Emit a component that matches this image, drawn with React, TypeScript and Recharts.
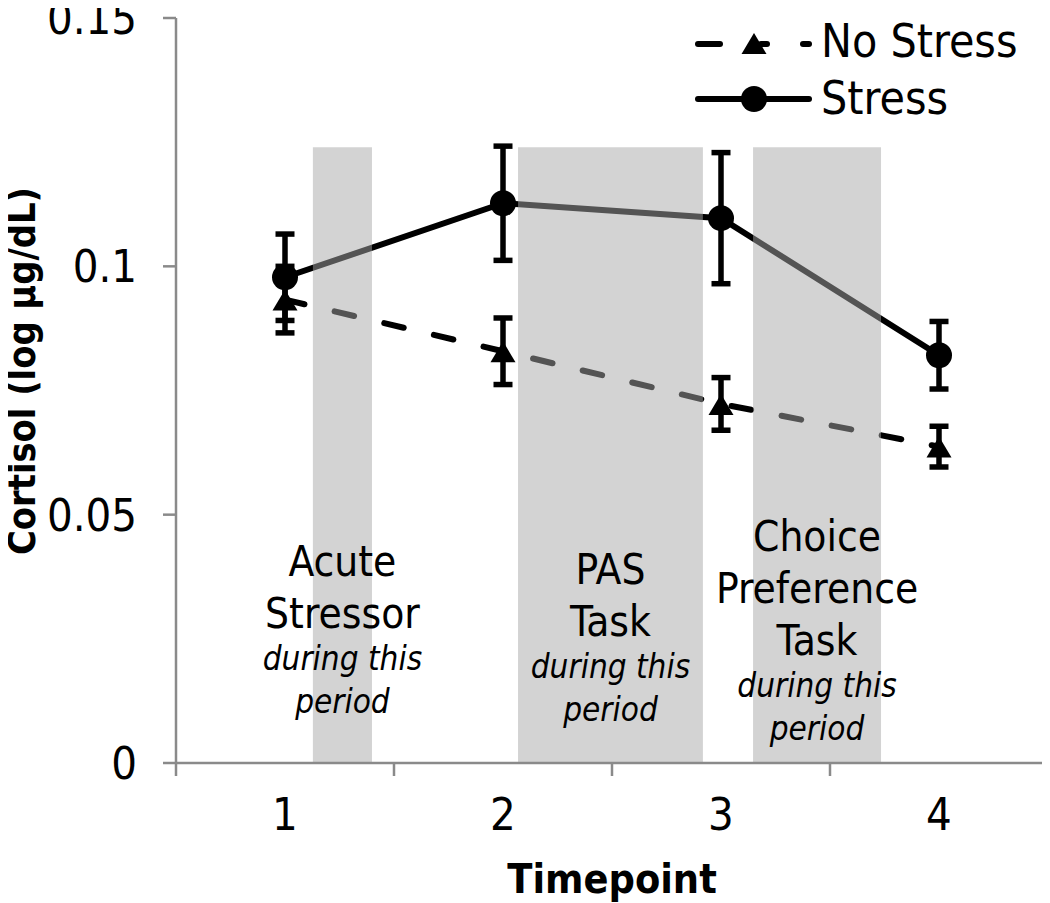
import React from 'react';
import { ComposedChart, Line, XAxis, YAxis, ErrorBar, ReferenceArea, Legend } from 'recharts';

const timepoints = [1, 2, 3, 4];
const stressMeans = [0.0978, 0.1127, 0.1097, 0.0821];
const stressErrors = [0.0087, 0.0115, 0.0132, 0.0068];
const noStressMeans = [0.0933, 0.0829, 0.0723, 0.0637];
const noStressErrors = [0.0067, 0.0067, 0.0053, 0.0041];
const yTicks = [0, 0.05, 0.1, 0.15];
const xTicks = [0.5, 1, 1.5, 2, 2.5, 3, 3.5, 4, 4.5];
const periodStarts = [1.128, 2.069, 3.147];
const periodEnds = [1.399, 2.917, 3.734];
const periodTop = 0.124;
const periodTitles = [['Acute', 'Stressor'], ['PAS', 'Task'], ['Choice', 'Preference', 'Task']];
const periodNote = ['during this', 'period'];
const seriesNames = ['No Stress', 'Stress'];
const yTitle = 'Cortisol (log µg/dL)';
const xTitle = 'Timepoint';

const data = timepoints.map((t, i) => ({
  t,
  stress: stressMeans[i],
  stressErr: stressErrors[i],
  noStress: noStressMeans[i],
  noStressErr: noStressErrors[i],
}));

const FONT = '"DejaVu Sans Condensed", "DejaVu Sans", sans-serif';
const AXIS = '#8a8a8a';
const firstBaselines = [429, 437, 404];

const makeBandLabel = (idx: number) => (props: any) => {
  const vb = props.viewBox || { x: 0, y: 0, width: 0, height: 0 };
  const cx = vb.x + vb.width / 2;
  const titles = periodTitles[idx];
  const base = vb.y + firstBaselines[idx];
  const lastTitle = base + (titles.length - 1) * 52;
  return (
    <g>
      {titles.map((s, i) => (
        <text key={'t' + i} x={cx} y={base + i * 52} textAnchor="middle" fontSize={42}
          fontFamily={FONT} fontStretch="condensed" fill="#000">{s}</text>
      ))}
      {periodNote.map((s, i) => (
        <text key={'n' + i} x={cx} y={lastTitle + 42 + i * 43} textAnchor="middle" fontSize={33}
          fontFamily={FONT} fontStretch="condensed" fontStyle="italic" fill="#000">{s}</text>
      ))}
    </g>
  );
};

const XTick = (props: any) => {
  const { x, y, payload } = props;
  const v = payload.value;
  if (Number.isInteger(v)) {
    return (
      <text x={x} y={y + 67} textAnchor="middle" fontSize={45} fontFamily={FONT}
        fontStretch="condensed" fill="#000">{String(v)}</text>
    );
  }
  return <line x1={x} y1={y} x2={x} y2={y + 13} stroke={AXIS} strokeWidth={2.5} />;
};

const YTitle = () => (
  <text transform="translate(27,363) rotate(-90)" textAnchor="middle" fontSize={38}
    fontWeight="bold" fontFamily={FONT} fontStretch="condensed" fill="#000"
    textLength={368} lengthAdjust="spacingAndGlyphs">{yTitle}</text>
);

const LegendContent = () => (
  <div style={{ fontFamily: FONT, fontStretch: 'condensed', fontSize: 46, color: '#000' }}>
    <div style={{ display: 'flex', alignItems: 'center', height: 57 }}>
      <svg width={126} height={57} style={{ display: 'block' }}>
        <line x1={3} y1={31} x2={25} y2={31} stroke="#000" strokeWidth={6} strokeLinecap="round" />
        <line x1={66} y1={31} x2={72} y2={31} stroke="#000" strokeWidth={6} strokeLinecap="round" />
        <line x1={108} y1={31} x2={114} y2={31} stroke="#000" strokeWidth={6} strokeLinecap="round" />
        <polygon points="59,20 46.5,41 71.5,41" fill="#000" />
      </svg>
      <span style={{ lineHeight: '57px', whiteSpace: 'nowrap' }}>{seriesNames[0]}</span>
    </div>
    <div style={{ display: 'flex', alignItems: 'center', height: 57 }}>
      <svg width={126} height={57} style={{ display: 'block' }}>
        <line x1={3} y1={29} x2={114} y2={29} stroke="#000" strokeWidth={6} strokeLinecap="round" />
        <circle cx={59} cy={29} r={13} fill="#000" />
      </svg>
      <span style={{ lineHeight: '57px', whiteSpace: 'nowrap' }}>{seriesNames[1]}</span>
    </div>
  </div>
);

const circleDot = (p: any) => (
  <circle key={'c' + p.index} cx={p.cx} cy={p.cy} r={13} fill="#000" />
);
const triangleDot = (p: any) => (
  <polygon key={'tr' + p.index}
    points={`${p.cx},${p.cy - 10} ${p.cx - 12.5},${p.cy + 11} ${p.cx + 12.5},${p.cy + 11}`}
    fill="#000" />
);

export default function App() {
  return (
    <div style={{ width: 1042, height: 895 }}>
      <style>{'svg.recharts-surface { overflow: visible; }'}</style>
      <ComposedChart width={1042} height={895} data={data}
        margin={{ top: 10, right: 2, bottom: 0, left: 0 }}>
        <XAxis dataKey="t" type="number" domain={[0.5, 4.5]} ticks={xTicks} interval={0}
          tickLine={false} tickSize={0} tickMargin={0} height={140}
          axisLine={{ stroke: AXIS, strokeWidth: 2.5 }} tick={<XTick />}
          label={{ value: xTitle, position: 'insideBottom', offset: 10, fontSize: 41,
            fontWeight: 'bold', fontFamily: FONT, fontStretch: 'condensed', fill: '#000' } as any} />
        <YAxis type="number" domain={[0, 0.15]} ticks={yTicks} interval={0} width={168}
          tickSize={13} tickMargin={26}
          tickLine={{ stroke: AXIS, strokeWidth: 2.5 }}
          axisLine={{ stroke: AXIS, strokeWidth: 2.5 }}
          tick={{ fill: '#000', fontSize: 45, fontFamily: FONT, fontStretch: 'condensed' } as any}
          label={<YTitle />} />
        <Line dataKey="noStress" name={seriesNames[0]} type="linear" stroke="#000" strokeWidth={6}
          strokeDasharray="20 31" strokeLinecap="round" dot={triangleDot} activeDot={false}
          isAnimationActive={false}>
          <ErrorBar dataKey="noStressErr" direction="y" width={9.5} strokeWidth={5.5} stroke="#000" />
        </Line>
        <Line dataKey="stress" name={seriesNames[1]} type="linear" stroke="#000" strokeWidth={6}
          dot={circleDot} activeDot={false} isAnimationActive={false}>
          <ErrorBar dataKey="stressErr" direction="y" width={9.5} strokeWidth={5.5} stroke="#000" />
        </Line>
        {periodStarts.map((s, i) => (
          <ReferenceArea key={'band' + i} x1={s} x2={periodEnds[i]} y1={0} y2={periodTop}
            fill="#a8a8a8" fillOpacity={0.5} stroke="none" zIndex={450} ifOverflow="visible"
            label={makeBandLabel(i)} {...({} as any)} />
        ))}
        <Legend layout="vertical" align="center" verticalAlign="middle" content={<LegendContent />}
          wrapperStyle={{ position: 'absolute', left: 687, top: 5, width: 355, height: 120 }} />
      </ComposedChart>
    </div>
  );
}
